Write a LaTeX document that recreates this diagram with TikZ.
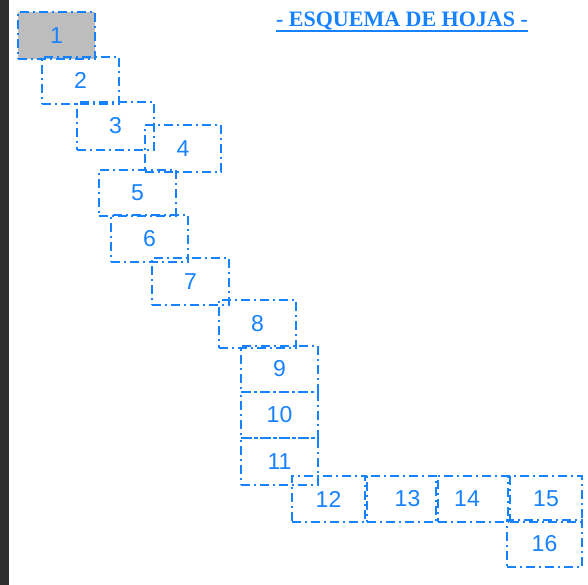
\documentclass[tikz,border=0pt]{standalone}
\usepackage{fontspec}
\setmainfont{Liberation Serif}
\newfontfamily\hojafont{Liberation Sans}
\usepackage{tikz}
\usetikzlibrary{calc}

\definecolor{azul}{RGB}{22,130,255}
\definecolor{grisfondo}{RGB}{189,189,189}

\tikzset{
    hoja/.style={draw=azul, line width=2pt,
        dash pattern=on 9pt off 4pt on 2pt off 4pt,
        minimum width=77pt, minimum height=47pt, inner sep=0pt,
        text=azul, font=\hojafont\fontsize{23}{23}\selectfont},
    titulo/.style={text=azul, inner sep=0pt,
        font=\bfseries\fontsize{22}{22}\selectfont}
}

\begin{document}
\begin{tikzpicture}[x=1pt, y=-1pt]

    % marco de la figura (588 x 585)
    \useasboundingbox (0,0) rectangle (588,585);
    \fill[white] (0,0) rectangle (588,585);
    \fill[gray!35!black] (0,0) rectangle (9,585);

    % titulo subrayado
    \node[titulo, anchor=base] (tit) at (402,27) {- ESQUEMA DE HOJAS -};
    \draw[azul, line width=2pt] ($(tit.base west)+(0,4)$) -- ($(tit.base east)+(0,4)$);

    % hojas en escalera
    \node[hoja, fill=grisfondo] (h1) at (56.5,35.5) {1};
    \node[hoja] (h2) at (80.5,80.5) {2};
    \node[hoja, minimum height=48pt] (h3) at (115.5,126) {3};
    \node[hoja, minimum width=76pt] (h4) at (183,148.5) {4};
    \node[hoja, minimum height=46pt] (h5) at (137.5,193) {5};
    \node[hoja] (h6) at (149.5,238.5) {6};
    \node[hoja] (h7) at (190.5,281.5) {7};
    \node[hoja, minimum height=48pt] (h8) at (257.5,324) {8};

    % columna 9 - 11
    \node[hoja, minimum height=46pt] (h9) at (279.5,369) {9};
    \node[hoja, minimum height=46pt] (h10) at (279.5,415) {10};
    \node[hoja] (h11) at (279.5,461.5) {11};

    % fila inferior 12 - 15 y la 16
    \node[hoja, minimum width=73pt, minimum height=46pt] (h12) at (328.5,499) {12};
    \node[hoja, minimum width=69pt, minimum height=46pt] (h13) at (401.5,499) {\hspace*{12pt}13};
    \node[hoja, minimum width=70pt, minimum height=46pt] (h14) at (473,499) {14\hspace*{12pt}};
    \node[hoja, minimum width=72pt, minimum height=46pt] (h15) at (546,499) {15};
    \node[hoja, minimum width=75pt] (h16) at (544.5,543.5) {16};

\end{tikzpicture}
\end{document}
